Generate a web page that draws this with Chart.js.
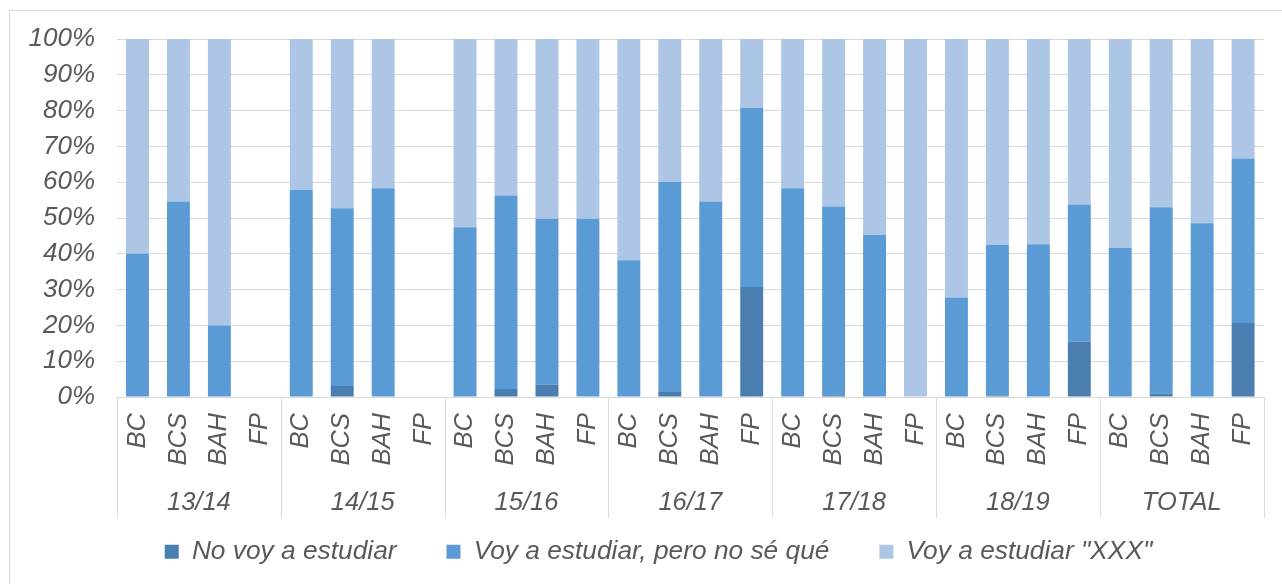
<!DOCTYPE html>
<html>
<head>
<meta charset="utf-8">
<script src="https://cdn.jsdelivr.net/npm/chart.js@4/dist/chart.umd.min.js"></script>
<style>
  html, body { margin: 0; padding: 0; background: #ffffff; overflow: hidden; }
  #wrap { position: relative; width: 1282px; height: 584px; }
  #frame { position: absolute; left: 9px; top: 10px; width: 1300px; height: 600px; border: 1px solid #d9d9d9; box-sizing: border-box; }
  #c { position: absolute; left: 0; top: 0; }
</style>
</head>
<body>
<div id="wrap">
  <div id="frame"></div>
  <canvas id="c" width="1282" height="584"></canvas>
</div>
<script>
// ---- data (percentages) ----
const groups = ["13/14", "14/15", "15/16", "16/17", "17/18", "18/19", "TOTAL"];
const subLabels = ["BC", "BCS", "BAH", "FP"];
const categories = [];
groups.forEach(() => subLabels.forEach(s => categories.push(s)));

const noVoy = [0, 0, 0, null,  0, 3.1, 0, null,  0, 2.2, 3.4, 0,  0, 1.4, 0, 30.7,  0, 0.5, 0, 0,  0, 0.4, 0, 15.4,  0, 1.0, 0, 20.7];
const peroNoSe = [40, 54.6, 20, null,  57.9, 49.6, 58.3, null,  47.4, 54.1, 46.4, 49.8,  38.2, 58.7, 54.6, 50.1,  58.3, 52.7, 45.3, 0,  27.8, 42.1, 42.7, 38.4,  41.7, 52.0, 48.5, 45.9];
const xxx = [60, 45.4, 80, null,  42.1, 47.3, 41.7, null,  52.6, 43.7, 50.2, 50.2,  61.8, 39.9, 45.4, 19.2,  41.7, 46.8, 54.7, 100,  72.2, 57.5, 57.3, 46.2,  58.3, 47.0, 51.5, 33.4];

const seriesNames = ["No voy a estudiar", "Voy a estudiar, pero no sé qué", "Voy a estudiar \"XXX\""];
const yTicks = [0, 10, 20, 30, 40, 50, 60, 70, 80, 90, 100];

const FONT = "'Liberation Sans', Arial, sans-serif";
const TXT = "#595959";
const GRID = "#d9d9d9";

// vertical separators between the year groups on the two-level category axis
const separators = {
  id: 'separators',
  afterDraw(chart) {
    const ca = chart.chartArea;
    const ctx = chart.ctx;
    const n = groups.length;
    const w = (ca.right - ca.left) / n;
    ctx.save();
    ctx.strokeStyle = GRID;
    ctx.lineWidth = 1;
    for (let i = 0; i <= n; i++) {
      const x = Math.round(ca.left + i * w) + 0.5;
      ctx.beginPath();
      ctx.moveTo(x, ca.bottom);
      ctx.lineTo(x, 518);
      ctx.stroke();
    }
    ctx.restore();
  }
};

// centre the legend row like the reference
const legendShift = {
  id: 'legendShift',
  afterLayout(chart) {
    const l = chart.legend;
    if (!l) return;
    const dx = 658.5 - (l.left + l.right) / 2;
    l.left += dx;
    l.right += dx;
  }
};

new Chart(document.getElementById('c'), {
  type: 'bar',
  data: {
    labels: categories,
    datasets: [
      { label: seriesNames[0], data: noVoy, backgroundColor: '#4a7eb1' },
      { label: seriesNames[1], data: peroNoSe, backgroundColor: '#5b9bd5' },
      { label: seriesNames[2], data: xxx, backgroundColor: '#adc6e5' }
    ]
  },
  options: {
    responsive: false,
    animation: false,
    layout: { padding: { left: 0, right: 17, top: 39, bottom: 9 } },
    datasets: { bar: { barPercentage: 0.56, categoryPercentage: 1.0, borderWidth: 0 } },
    plugins: {
      tooltip: { enabled: false },
      legend: {
        position: 'bottom',
        labels: {
          boxWidth: 14, boxHeight: 14, padding: 50,
          color: TXT,
          font: { family: FONT, size: 26.3, style: 'italic' }
        }
      }
    },
    scales: {
      x: {
        stacked: true,
        grid: { display: false },
        border: { display: true, color: GRID, width: 1 },
        ticks: {
          autoSkip: false, minRotation: 90, maxRotation: 90, padding: 8,
          color: TXT, font: { family: FONT, size: 25.5, style: 'italic' }
        },
        afterFit(s) { s.height = 86; }
      },
      x2: {
        type: 'category',
        labels: groups,
        position: 'bottom',
        offset: true,
        weight: 1,
        grid: { display: false },
        border: { display: false },
        ticks: {
          autoSkip: false, maxRotation: 0, minRotation: 0, mirror: true, padding: -35,
          color: TXT, font: { family: FONT, size: 25.5, style: 'italic' }
        },
        afterFit(s) { s.height = 5.7; }
      },
      y: {
        stacked: true,
        min: 0, max: 100,
        afterBuildTicks(s) { s.ticks = yTicks.map(v => ({ value: v })); },
        grid: { color: GRID, lineWidth: 1, drawTicks: false },
        border: { display: false },
        ticks: {
          padding: 22,
          color: TXT, font: { family: FONT, size: 26, style: 'italic' },
          callback: v => v + '%'
        },
        afterFit(s) { s.width = 117; }
      }
    }
  },
  plugins: [separators, legendShift]
});
</script>
</body>
</html>
